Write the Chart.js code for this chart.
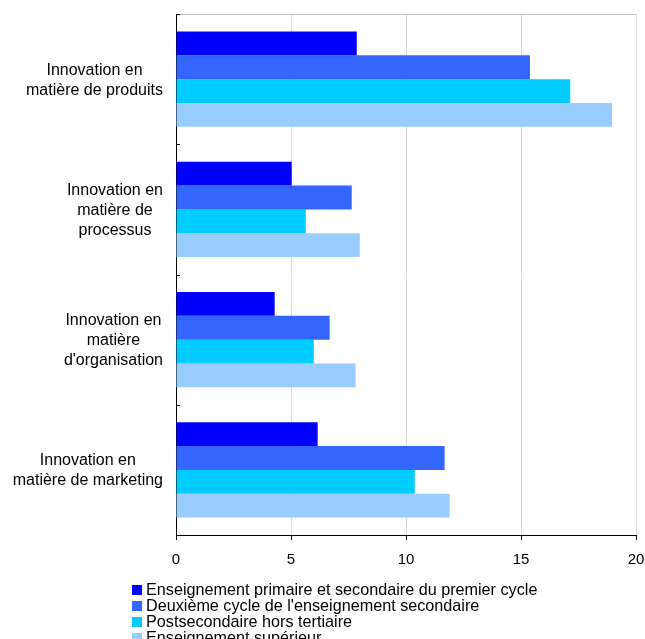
<!DOCTYPE html>
<html>
<head>
<meta charset="utf-8">
<script src="https://cdn.jsdelivr.net/npm/chart.js@4/dist/chart.umd.min.js"></script>
<style>
    body { margin: 0; background: #fff; }
    #wrap { position: relative; width: 645px; height: 639px; }
    #legend { position: absolute; left: 132px; top: 581px; font: 16.2px 'Liberation Sans', Arial, sans-serif; color: #000; }
    .row { height: 16px; line-height: 16px; white-space: nowrap; }
    .box { display: inline-block; width: 10px; height: 10px; margin-right: 4px; vertical-align: 0px; }
</style>
</head>
<body>
<div id="wrap">
    <canvas id="chart" width="645" height="639"></canvas>
    <div id="legend"></div>
</div>
<script>
const categories = [
    ['Innovation en', 'matière de produits'],
    ['Innovation en', 'matière de', 'processus'],
    ['Innovation en', 'matière', "d'organisation"],
    ['Innovation en', 'matière de marketing']
];
const seriesNames = [
    'Enseignement primaire et secondaire du premier cycle',
    "Deuxième cycle de l'enseignement secondaire",
    'Postsecondaire hors tertiaire',
    'Enseignement supérieur'
];
const primary = [7.86, 5.03, 4.29, 6.16];
const upperSecondary = [15.39, 7.64, 6.68, 11.68];
const postSecondary = [17.14, 5.64, 5.99, 10.38];
const tertiary = [18.96, 7.99, 7.81, 11.9];
const xTicks = [0, 5, 10, 15, 20];

const colors = ['#0000ff', '#3366ff', '#00ccff', '#99ccff'];
const font = "'Liberation Sans', Arial, sans-serif";

// category labels: each label centred on itself, right edge fixed
const labelPlugin = {
    id: 'labels',
    afterDraw(chart) {
        const ctx = chart.ctx;
        const y = chart.scales.y;
        const area = chart.chartArea;
        ctx.save();
        ctx.font = '16px ' + font;
        ctx.fillStyle = '#000';
        ctx.textAlign = 'center';
        ctx.textBaseline = 'middle';
        categories.forEach((lines, i) => {
            const cy = y.getPixelForValue(i) + 1;
            const w = Math.max(...lines.map(l => ctx.measureText(l).width));
            const cx = 163 - w / 2;
            lines.forEach((l, j) => {
                ctx.fillText(l, cx, cy + (j - (lines.length - 1) / 2) * 20);
            });
        });
        // top frame line
        ctx.strokeStyle = '#bfbfbf';
        ctx.lineWidth = 1;
        ctx.beginPath();
        ctx.moveTo(area.left, area.top + 0.5);
        ctx.lineTo(area.right, area.top + 0.5);
        ctx.stroke();
        // small inner ticks at category boundaries
        ctx.strokeStyle = '#000';
        ctx.beginPath();
        for (let i = 0; i < categories.length; i++) {
            let by = i === 0 ? area.top : (y.getPixelForValue(i - 1) + y.getPixelForValue(i)) / 2;
            by = Math.round(by) + 0.5;
            ctx.moveTo(area.left, by);
            ctx.lineTo(area.left + 4, by);
        }
        ctx.stroke();
        ctx.restore();
    }
};

const datasets = [primary, upperSecondary, postSecondary, tertiary].map((d, i) => ({
    label: seriesNames[i],
    data: d,
    backgroundColor: colors[i],
    borderWidth: 0,
    barPercentage: 1,
    categoryPercentage: 0.73
}));

new Chart(document.getElementById('chart'), {
    type: 'bar',
    data: { labels: categories.map(c => c.join(' ')), datasets: datasets },
    options: {
        indexAxis: 'y',
        responsive: false,
        animation: false,
        layout: { padding: { top: 14, right: 9, left: 0, bottom: 0 } },
        scales: {
            x: {
                min: 0,
                max: 20,
                afterFit: s => { s.height = 104; s.paddingRight = 0; s.paddingLeft = 0; },
                afterBuildTicks: s => { s.ticks = xTicks.map(v => ({ value: v })); },
                grid: { color: '#d9d9d9', tickColor: '#000', tickLength: 5 },
                border: { color: '#000', width: 1 },
                ticks: { color: '#000', padding: 11, font: { family: font, size: 15 } }
            },
            y: {
                afterFit: s => { s.width = 176; },
                grid: { display: false },
                border: { color: '#000', width: 1 },
                ticks: { display: false }
            }
        },
        plugins: {
            legend: { display: false },
            tooltip: { enabled: false }
        }
    },
    plugins: [labelPlugin]
});

document.getElementById('legend').innerHTML = seriesNames.map((n, i) =>
    `<div class="row"><span class="box" style="background:${colors[i]}"></span>${n}</div>`
).join('');
</script>
</body>
</html>
